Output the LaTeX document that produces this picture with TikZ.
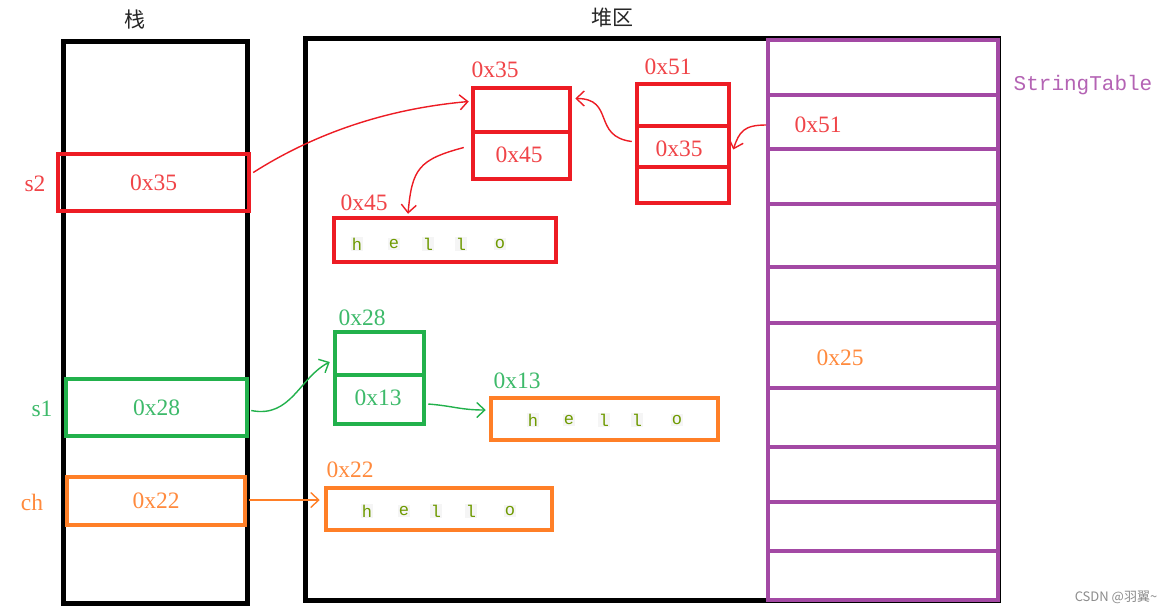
\documentclass[tikz,border=0pt]{standalone}
\usepackage{fontspec}
\setmainfont{Liberation Serif}
\setmonofont{Liberation Mono}
\newfontfamily\cjk{Noto Sans CJK SC}
\usetikzlibrary{arrows.meta}
\definecolor{cred}{HTML}{ED1C24}
\definecolor{tred}{HTML}{F04448}
\definecolor{cgreen}{HTML}{22B14C}
\definecolor{tgreen}{HTML}{3DBA6A}
\definecolor{corange}{HTML}{FF7F27}
\definecolor{torange}{HTML}{FF8A3D}
\definecolor{cpurple}{HTML}{A349A4}
\definecolor{tpurple}{HTML}{B463B4}
\definecolor{olivetxt}{HTML}{6E9A00}
\tikzset{
  lbl/.style={font=\fontsize{23.5}{23.5}\selectfont, inner sep=0pt},
  title/.style={font=\cjk\fontsize{21}{21}\selectfont, text=black!85, inner sep=0pt},
  frame/.style={draw, line width=5pt, inner sep=0pt},
  cell/.style={draw, line width=4.5pt, inner sep=0pt},
  link/.style={line width=1.4pt, -{Straight Barb[length=8pt,width=15pt]}},
  letter/.style={font=\ttfamily\fontsize{17}{17}\selectfont, text=olivetxt, fill=black!4, inner sep=1pt},
}
\begin{document}
\begin{tikzpicture}[x=1pt,y=-1pt]
\useasboundingbox (0,0) rectangle (1172,614);
\fill[white] (0,0) rectangle (1172,614);

% titles
\node[title] (tstack) at (135,20) {栈};
\node[title] (theap) at (612,18) {堆区};

% stack and heap frames
\node[frame, minimum width=184, minimum height=562] (stack) at (155,322) {};
\node[frame, minimum width=693, minimum height=562] (heap) at (651.5,319) {};

% string table
\node[draw=cpurple, line width=4pt, minimum width=230, minimum height=560, inner sep=0pt] (table) at (883,320) {};
\foreach \y in {95,149,204,267,323,388,447,502,551}
  \draw[cpurple, line width=4pt] (768,\y) -- (998,\y);
\node[font=\ttfamily\fontsize{21}{21}\selectfont, text=tpurple, inner sep=0pt] (tname) at (1083,85) {StringTable};
\node[lbl, text=tred] (r51) at (818,125) {0x51};
\node[lbl, text=torange] (r25) at (840,358) {0x25};

% stack slots
\node[cell, draw=cred, minimum width=191, minimum height=57, text=tred, lbl] (s2) at (153.5,182.5) {0x35};
\node[lbl, text=tred] (s2n) at (35,184) {s2};
\node[cell, draw=cgreen, minimum width=181, minimum height=57, text=tgreen, lbl] (s1) at (156.5,407.5) {0x28};
\node[lbl, text=tgreen] (s1n) at (42,409) {s1};
\node[cell, draw=corange, minimum width=178, minimum height=48, text=torange, lbl] (ch) at (156,501) {0x22};
\node[lbl, text=torange] (chn) at (32,502) {ch};

% heap objects: red
\node[cell, draw=cred, minimum width=97, minimum height=91] (p35) at (521.5,133.5) {};
\draw[cred, line width=4.5pt] (p35.west |- 0,132) -- (p35.east |- 0,132);
\node[lbl, text=tred] (p35a) at (495,70) {0x35};
\node[lbl, text=tred] (p35v) at (519,155) {0x45};

\node[cell, draw=cred, minimum width=92, minimum height=119] (p51) at (683,143.5) {};
\draw[cred, line width=4.5pt] (p51.west |- 0,126) -- (p51.east |- 0,126);
\draw[cred, line width=4.5pt] (p51.west |- 0,167) -- (p51.east |- 0,167);
\node[lbl, text=tred] (p51a) at (668,67) {0x51};
\node[lbl, text=tred] (p51v) at (679,149) {0x35};

\node[cell, draw=cred, minimum width=222, minimum height=44] (h45) at (445,240) {};
\node[lbl, text=tred] (h45a) at (364,203) {0x45};
\foreach \x/\c [count=\i] in {357/h,394/e,428/l,461/l,500/o}
  \node[letter] (h45l\i) at (\x,244) {\c};

% heap objects: green
\node[cell, draw=cgreen, minimum width=89, minimum height=92] (p28) at (379.5,378) {};
\draw[cgreen, line width=4.5pt] (p28.west |- 0,375) -- (p28.east |- 0,375);
\node[lbl, text=tgreen] (p28a) at (362,318) {0x28};
\node[lbl, text=tgreen] (p28v) at (378,398) {0x13};

\node[cell, draw=corange, minimum width=227, minimum height=42] (h13) at (604.5,419) {};
\node[lbl, text=tgreen] (h13a) at (517,381) {0x13};
\foreach \x/\c [count=\i] in {533/h,569/e,604/l,637/l,677/o}
  \node[letter] (h13l\i) at (\x,420) {\c};

% heap objects: orange
\node[cell, draw=corange, minimum width=226, minimum height=42] (h22) at (439,509) {};
\node[lbl, text=torange] (h22a) at (350,470) {0x22};
\foreach \x/\c [count=\i] in {367/h,404/e,436/l,471/l,510/o}
  \node[letter] (h22l\i) at (\x,511) {\c};

% connectors
\draw[link, cred] ([xshift=2pt, yshift=10pt]s2.east)
  .. controls +(55,-35) and +(-90,8) .. ([xshift=-2pt, yshift=32pt]p35.west);
\draw[link, cred] ([xshift=-7pt, yshift=-14pt]p35.west)
  .. controls +(-45,12) and +(4,-45) .. ([xshift=-37pt, yshift=2pt]h45.north);
\draw[link, cred] ([xshift=-3pt, yshift=2pt]p51.west)
  .. controls +(-40,-5) and +(40,0) .. ([xshift=3pt, yshift=35pt]p35.east);
\draw[link, cred] (table.west |- r51)
  .. controls +(-22,0) and +(6,-18) .. ([xshift=2pt, yshift=-6pt]p51.east);
\draw[link, cgreen] ([xshift=2pt, yshift=-3pt]s1.east)
  .. controls +(40,8) and +(-30,15) .. ([xshift=-3pt, yshift=16pt]p28.west);
\draw[link, cgreen] ([xshift=2pt, yshift=-26pt]p28.east)
  .. controls +(25,2) and +(-25,0) .. ([xshift=-3pt, yshift=9pt]h13.west);
\draw[link, corange] ([xshift=2pt, yshift=1pt]ch.east) -- ([xshift=-4pt, yshift=9pt]h22.west);

% watermark
\node[font=\cjk\fontsize{13}{13}\selectfont, text=black!45, inner sep=0pt] (wm) at (1116,597) {CSDN @羽翼\textasciitilde};
\end{tikzpicture}
\end{document}
